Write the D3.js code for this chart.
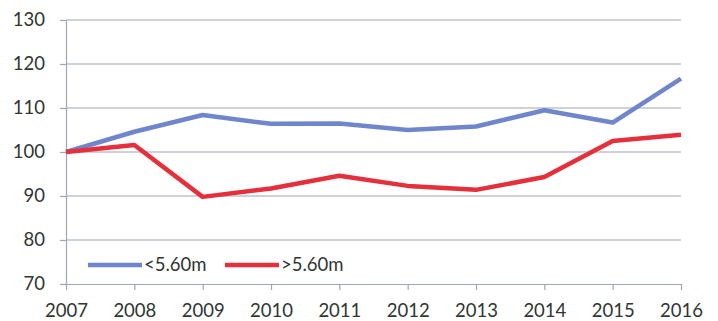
<!DOCTYPE html>
<html lang="en">
<head>
    <meta charset="UTF-8">
    <script src="https://d3js.org/d3.v7.min.js"></script>
    <style>
        body { margin: 0; background: #fff; }
        text { font-family: Lato, "Liberation Sans", Arial, sans-serif; fill: #2f3533; }
    </style>
    <title>Chart</title>
</head>
<body>
<svg id="chart" width="718" height="321"></svg>
<script>
    // values, index 2007 = 100
    var years = [2007, 2008, 2009, 2010, 2011, 2012, 2013, 2014, 2015, 2016]
    var below = [100, 104.6, 108.4, 106.4, 106.5, 105.0, 105.8, 109.5, 106.7, 116.7]
    var above = [100, 101.6, 89.8, 91.7, 94.6, 92.3, 91.4, 94.3, 102.5, 103.9]
    var yTicks = [70, 80, 90, 100, 110, 120, 130]
    var seriesNames = ["<5.60m", ">5.60m"]
    var seriesColors = ["#6f86cc", "#e5303c"]

    var svg = d3.select("#chart")
    var plot = {left: 66, right: 681, top: 20, bottom: 284}
    var gridColor = "#9ea6b2"

    var x = d3.scalePoint().domain(years).range([plot.left, plot.right])
    var y = d3.scaleLinear().domain([70, 130]).range([plot.bottom, plot.top])

    // horizontal grid
    svg.append("g")
        .selectAll("line")
        .data(yTicks.slice(1))
        .enter()
        .append("line")
        .attr("x1", plot.left).attr("x2", plot.right)
        .attr("y1", function (d) { return y(d) }).attr("y2", function (d) { return y(d) })
        .attr("stroke", gridColor).attr("stroke-width", 1.2)

    // y axis
    var yAxis = svg.append("g")
        .attr("transform", "translate(" + plot.left + ",0)")
        .call(d3.axisLeft(y).tickValues(yTicks).tickSize(6).tickPadding(15).tickSizeOuter(0))
    yAxis.selectAll("text").style("font-size", "18.5px")

    // x axis
    var xAxis = svg.append("g")
        .attr("transform", "translate(0," + plot.bottom + ")")
        .call(d3.axisBottom(x).tickSize(6).tickPadding(14).tickSizeOuter(0))
    xAxis.selectAll("text").style("font-size", "18.5px")

    svg.selectAll(".domain, .tick line").attr("stroke", gridColor).attr("stroke-width", 1.2)

    var line = d3.line()
        .x(function (d, i) { return x(years[i]) })
        .y(function (d) { return y(d) })

    svg.append("path").datum(below)
        .attr("d", line).attr("fill", "none")
        .attr("stroke", seriesColors[0]).attr("stroke-width", 4.5)
        .attr("stroke-linejoin", "round")

    svg.append("path").datum(above)
        .attr("d", line).attr("fill", "none")
        .attr("stroke", seriesColors[1]).attr("stroke-width", 4.5)
        .attr("stroke-linejoin", "round")

    // legend
    var legend = svg.append("g").attr("transform", "translate(88,265)")
    var legendX = [0, 137]
    seriesNames.forEach(function (name, i) {
        legend.append("line")
            .attr("x1", legendX[i]).attr("x2", legendX[i] + 54)
            .attr("y1", 0).attr("y2", 0)
            .attr("stroke", seriesColors[i]).attr("stroke-width", 4.5)
        legend.append("text")
            .attr("x", legendX[i] + 56).attr("y", 0).attr("dy", "0.35em")
            .style("font-size", "18.5px")
            .text(name)
    })
</script>
</body>
</html>
